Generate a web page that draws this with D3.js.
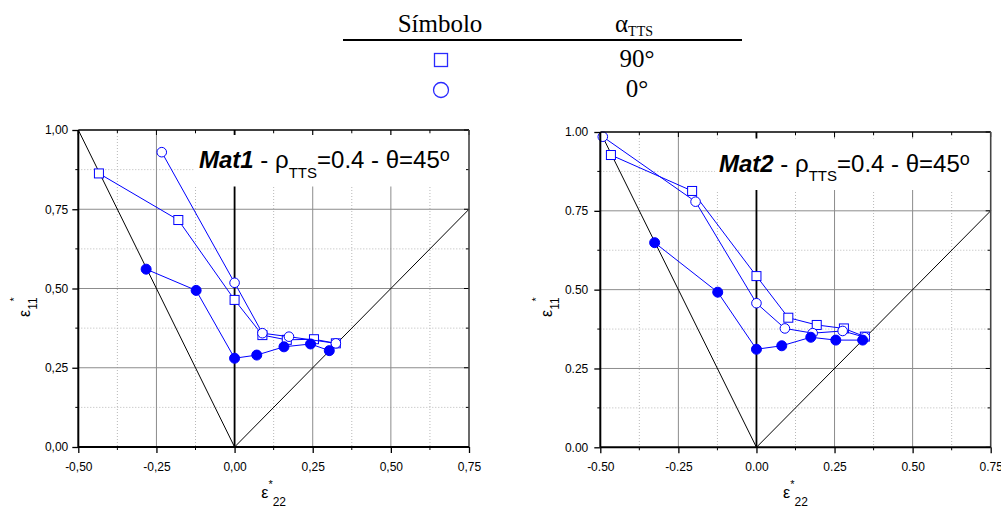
<!DOCTYPE html>
<html>
<head>
<meta charset="utf-8">
<script src="https://cdn.jsdelivr.net/npm/d3@7"></script>
<style>
  body { margin: 0; background: #fff; }
  svg { display: block; }
</style>
</head>
<body>
<svg id="chart" width="1001" height="506"></svg>
<script>
// axis ticks (both panels share the same ranges)
var xMajor = [-0.5, -0.25, 0, 0.25, 0.5, 0.75];
var yMajor = [0, 0.25, 0.5, 0.75, 1];
var xMinor = [-0.375, -0.125, 0.125, 0.375, 0.625];
var yMinor = [0.125, 0.375, 0.625, 0.875];

// reference lines
var refLeft = [[-0.5, 1], [0, 0]];
var refRight = [[0, 0], [0.75, 0.75]];
var refVertical = [[0, 0], [0, 1]];

// Mat1 series [eps22, eps11]
var mat1Square = [[-0.434, 0.863], [-0.18, 0.716], [0, 0.464], [0.089, 0.353], [0.167, 0.338], [0.254, 0.340], [0.324, 0.327]];
var mat1Circle = [[-0.233, 0.930], [0, 0.518], [0.089, 0.359], [0.174, 0.348], [0.324, 0.327]];
var mat1Filled = [[-0.283, 0.561], [-0.123, 0.494], [0, 0.280], [0.071, 0.290], [0.158, 0.316], [0.243, 0.325], [0.303, 0.304]];

// Mat2 series
var mat2Square = [[-0.466, 0.927], [-0.206, 0.813], [0, 0.543], [0.102, 0.411], [0.193, 0.388], [0.280, 0.377], [0.347, 0.351]];
var mat2Circle = [[-0.492, 0.985], [-0.195, 0.779], [0, 0.457], [0.091, 0.377], [0.180, 0.362], [0.276, 0.369], [0.347, 0.349]];
var mat2Filled = [[-0.326, 0.649], [-0.124, 0.492], [0, 0.311], [0.081, 0.322], [0.174, 0.349], [0.254, 0.340], [0.340, 0.340]];

// legend rows
var legendHeader = ["Símbolo", "α"];
var legendRows = [{ symbol: "square", label: "90°" }, { symbol: "circle", label: "0°" }];

var svg = d3.select("#chart");
var BLUE = "#0000ff";
var SANS = "'Liberation Sans', Arial, sans-serif";
var SERIF = "'Liberation Serif', 'Times New Roman', serif";

var commaLocale = d3.formatLocale({ decimal: ",", thousands: ".", grouping: [3], currency: ["", ""], minus: "-" });
var dotLocale = d3.formatLocale({ decimal: ".", thousands: ",", grouping: [3], currency: ["", ""], minus: "-" });

// ---------- legend table ----------
(function drawLegend() {
  var g = svg.append("g");
  g.append("text")
    .attr("x", 440).attr("y", 32)
    .attr("text-anchor", "middle")
    .attr("font-family", SERIF).attr("font-size", 25)
    .text(legendHeader[0]);
  var a = g.append("text")
    .attr("x", 615).attr("y", 32)
    .attr("font-family", SERIF).attr("font-size", 25);
  a.append("tspan").text(legendHeader[1]);
  a.append("tspan").attr("font-size", 14).attr("dy", 4).text("TTS");

  g.append("line")
    .attr("x1", 343).attr("x2", 742)
    .attr("y1", 40).attr("y2", 40)
    .attr("stroke", "#000").attr("stroke-width", 2);

  legendRows.forEach(function(r, i) {
    var cy = 60 + i * 30;
    if (r.symbol === "square") {
      g.append("rect")
        .attr("x", 441 - 6.5).attr("y", cy - 6.5)
        .attr("width", 13).attr("height", 13)
        .attr("fill", "none").attr("stroke", "#2a2aff").attr("stroke-width", 1.3);
    } else {
      g.append("circle")
        .attr("cx", 441).attr("cy", cy)
        .attr("r", 7.5)
        .attr("fill", "none").attr("stroke", "#2a2aff").attr("stroke-width", 1.3);
    }
    g.append("text")
      .attr("x", 637).attr("y", cy + 7)
      .attr("text-anchor", "middle")
      .attr("font-family", SERIF).attr("font-size", 25)
      .text(r.label);
  });
})();

// ---------- one panel ----------
function drawPanel(cfg) {
  var x = d3.scaleLinear().domain([-0.5, 0.75]).range([cfg.left, cfg.right]);
  var y = d3.scaleLinear().domain([0, 1]).range([cfg.bottom, cfg.top]);
  var fmt = cfg.locale.format(".2f");
  var g = svg.append("g");

  // minor dotted grid
  g.selectAll(".gx-minor").data(xMinor).enter().append("line")
    .attr("x1", function(d) { return x(d); }).attr("x2", function(d) { return x(d); })
    .attr("y1", cfg.top).attr("y2", cfg.bottom)
    .attr("stroke", "#b8b8b8").attr("stroke-dasharray", "1,2");
  g.selectAll(".gy-minor").data(yMinor).enter().append("line")
    .attr("x1", cfg.left).attr("x2", cfg.right)
    .attr("y1", function(d) { return y(d); }).attr("y2", function(d) { return y(d); })
    .attr("stroke", "#b8b8b8").attr("stroke-dasharray", "1,2");

  // major solid grid
  g.selectAll(".gx-major").data(xMajor.slice(1, -1)).enter().append("line")
    .attr("x1", function(d) { return x(d); }).attr("x2", function(d) { return x(d); })
    .attr("y1", cfg.top).attr("y2", cfg.bottom)
    .attr("stroke", "#8c8c8c").attr("stroke-width", 1);
  g.selectAll(".gy-major").data(yMajor.slice(1, -1)).enter().append("line")
    .attr("x1", cfg.left).attr("x2", cfg.right)
    .attr("y1", function(d) { return y(d); }).attr("y2", function(d) { return y(d); })
    .attr("stroke", "#8c8c8c").attr("stroke-width", 1);

  var line = d3.line().x(function(d) { return x(d[0]); }).y(function(d) { return y(d[1]); });

  // reference lines
  [refLeft, refRight].forEach(function(r) {
    g.append("path").attr("d", line(r)).attr("fill", "none")
      .attr("stroke", "#000").attr("stroke-width", 1);
  });
  g.append("path").attr("d", line(refVertical)).attr("fill", "none")
    .attr("stroke", "#000").attr("stroke-width", 1.8);

  // title with white box behind it
  var titleG = g.append("g");
  var box = titleG.append("rect").attr("fill", "#fff");
  var t = titleG.append("text")
    .attr("x", cfg.titleX).attr("y", cfg.titleY)
    .attr("font-family", SANS).attr("font-size", 24).attr("fill", "#000");
  t.append("tspan").attr("font-weight", "bold").attr("font-style", "italic").text(cfg.name);
  t.append("tspan").text(" - ρ");
  t.append("tspan").attr("font-size", 15).attr("dy", 9.5).text("TTS");
  t.append("tspan").attr("dy", -9.5).text("=0.4 - θ=45");
  t.append("tspan").attr("font-size", 18).attr("dy", -7).text("o");
  var bb = t.node().getBBox();
  box.attr("x", bb.x - 4).attr("y", bb.y - 10)
    .attr("width", cfg.right - (bb.x - 4)).attr("height", bb.height + 16);

  // data series
  var series = [
    { data: cfg.square, kind: "square" },
    { data: cfg.circle, kind: "circle" },
    { data: cfg.filled, kind: "filled" }
  ];
  series.forEach(function(s) {
    g.append("path").attr("d", line(s.data)).attr("fill", "none")
      .attr("stroke", BLUE).attr("stroke-width", 1);
    if (s.kind === "square") {
      g.selectAll(null).data(s.data).enter().append("rect")
        .attr("x", function(d) { return x(d[0]) - 4.5; })
        .attr("y", function(d) { return y(d[1]) - 4.5; })
        .attr("width", 9).attr("height", 9)
        .attr("fill", "#fff").attr("stroke", BLUE).attr("stroke-width", 1);
    } else {
      g.selectAll(null).data(s.data).enter().append("circle")
        .attr("cx", function(d) { return x(d[0]); })
        .attr("cy", function(d) { return y(d[1]); })
        .attr("r", s.kind === "filled" ? 5 : 4.8)
        .attr("fill", s.kind === "filled" ? BLUE : "#fff")
        .attr("stroke", BLUE).attr("stroke-width", 1);
    }
  });

  // axes: bottom and left with outward ticks
  var xAxis = d3.axisBottom(x).tickValues(xMajor).tickFormat(fmt).tickSize(6).tickPadding(9);
  var yAxis = d3.axisLeft(y).tickValues(yMajor).tickFormat(fmt).tickSize(6).tickPadding(cfg.yPad);
  var gx = g.append("g").attr("transform", "translate(0," + cfg.bottom + ")").call(xAxis);
  var gy = g.append("g").attr("transform", "translate(" + cfg.left + ",0)").call(yAxis);
  [gx, gy].forEach(function(a) {
    a.select(".domain").remove();
    a.selectAll("line").attr("stroke", "#000").attr("stroke-width", 1.3);
    a.selectAll("text").attr("font-family", SANS).attr("font-size", 12).attr("fill", "#000");
  });

  // minor outward ticks
  g.selectAll(null).data(xMinor).enter().append("line")
    .attr("x1", function(d) { return x(d); }).attr("x2", function(d) { return x(d); })
    .attr("y1", cfg.bottom).attr("y2", cfg.bottom + 3)
    .attr("stroke", "#000");
  g.selectAll(null).data(yMinor).enter().append("line")
    .attr("x1", cfg.left - 3).attr("x2", cfg.left)
    .attr("y1", function(d) { return y(d); }).attr("y2", function(d) { return y(d); })
    .attr("stroke", "#000");

  // top and right inward ticks
  g.selectAll(null).data(xMajor).enter().append("line")
    .attr("x1", function(d) { return x(d); }).attr("x2", function(d) { return x(d); })
    .attr("y1", cfg.top).attr("y2", cfg.top + 5).attr("stroke", "#000");
  g.selectAll(null).data(xMinor).enter().append("line")
    .attr("x1", function(d) { return x(d); }).attr("x2", function(d) { return x(d); })
    .attr("y1", cfg.top).attr("y2", cfg.top + 3).attr("stroke", "#000");
  g.selectAll(null).data(yMajor).enter().append("line")
    .attr("x1", cfg.right - 5).attr("x2", cfg.right)
    .attr("y1", function(d) { return y(d); }).attr("y2", function(d) { return y(d); })
    .attr("stroke", "#000");
  g.selectAll(null).data(yMinor).enter().append("line")
    .attr("x1", cfg.right - 3).attr("x2", cfg.right)
    .attr("y1", function(d) { return y(d); }).attr("y2", function(d) { return y(d); })
    .attr("stroke", "#000");

  // frame
  g.append("line").attr("x1", cfg.left).attr("x2", cfg.right).attr("y1", cfg.top).attr("y2", cfg.top)
    .attr("stroke", "#000").attr("stroke-width", 1.3);
  g.append("line").attr("x1", cfg.right).attr("x2", cfg.right).attr("y1", cfg.top).attr("y2", cfg.bottom)
    .attr("stroke", "#444").attr("stroke-width", 1.6);
  g.append("line").attr("x1", cfg.left).attr("x2", cfg.right).attr("y1", cfg.bottom).attr("y2", cfg.bottom)
    .attr("stroke", "#000").attr("stroke-width", 2);
  g.append("line").attr("x1", cfg.left).attr("x2", cfg.left).attr("y1", cfg.top).attr("y2", cfg.bottom)
    .attr("stroke", "#000").attr("stroke-width", 2);

  // x axis title: eps*22
  var xt = g.append("text")
    .attr("x", (cfg.left + cfg.right) / 2).attr("y", 498)
    .attr("text-anchor", "middle")
    .attr("font-family", SANS).attr("font-size", 16).attr("fill", "#000");
  xt.append("tspan").text("ε");
  xt.append("tspan").attr("font-size", 11).attr("dy", -10).text("*");
  xt.append("tspan").attr("font-size", 12).attr("dy", 18).text("22");

  // y axis title: eps*11 (rotated)
  var yt = g.append("text")
    .attr("transform", "translate(" + (cfg.left - 48) + ",317) rotate(-90)")
    .attr("font-family", SANS).attr("font-size", 16).attr("fill", "#000");
  yt.append("tspan").text("ε");
  yt.append("tspan").attr("font-size", 12).attr("dy", 7).text("11");
  yt.append("tspan").attr("font-size", 11).attr("dx", -4).attr("dy", -19).text("*");
}

drawPanel({
  left: 78.3, right: 469, top: 130, bottom: 447,
  locale: commaLocale, yPad: 4,
  name: "Mat1", titleX: 199, titleY: 168,
  square: mat1Square, circle: mat1Circle, filled: mat1Filled
});

drawPanel({
  left: 600.3, right: 990.7, top: 132, bottom: 447.3,
  locale: dotLocale, yPad: 6,
  name: "Mat2", titleX: 719, titleY: 171.5,
  square: mat2Square, circle: mat2Circle, filled: mat2Filled
});
</script>
</body>
</html>
